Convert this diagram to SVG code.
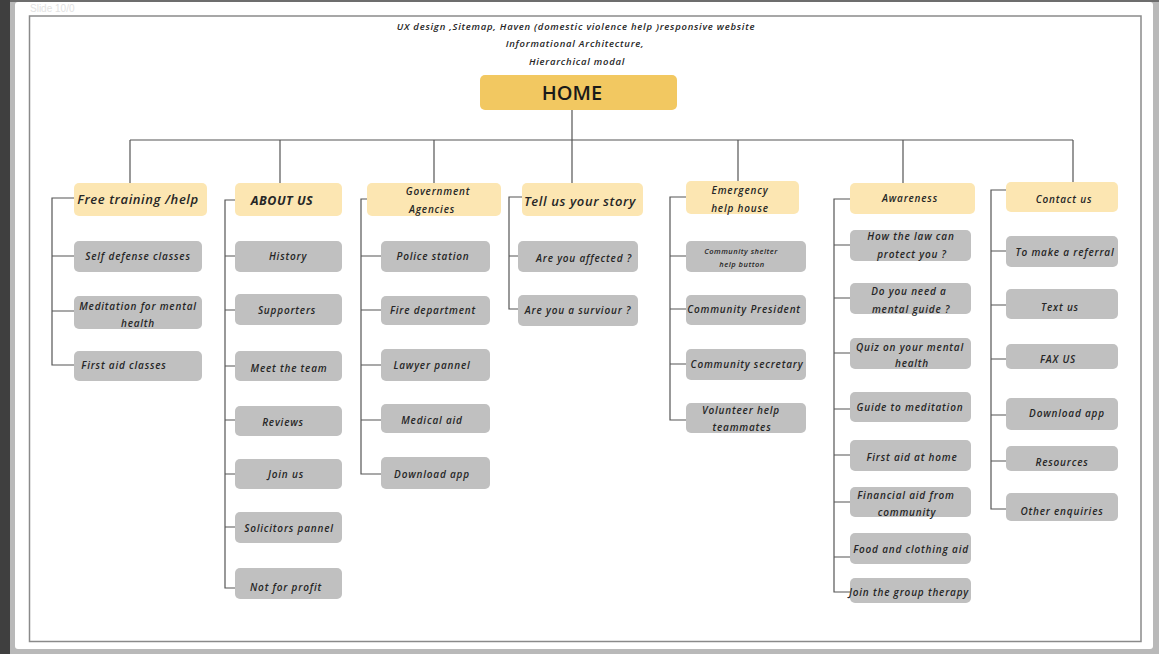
<svg xmlns="http://www.w3.org/2000/svg" width="1159" height="654" viewBox="0 0 1159 654">
<style>
.hdr{fill:#fce6b2;}
.leaf{fill:#c0c0c0;}
.t{font-family:"Open Sans","Liberation Sans",sans-serif;font-style:italic;font-weight:600;font-size:10px;fill:#262626;text-anchor:middle;letter-spacing:0.8px;}
.th{font-size:13px;letter-spacing:0.6px;}
.ts{font-size:7.5px;letter-spacing:0.5px;}
.tt{font-size:9.5px;letter-spacing:0.75px;}
.conn{fill:none;stroke:#555;stroke-width:1.2;}
</style>
<rect x="0" y="0" width="1159" height="654" fill="#b9b9b9"/>
<rect x="0" y="0" width="10" height="654" fill="#3f3f3f"/>
<rect x="10" y="0" width="1149" height="2" fill="#6d6d6d"/>
<rect x="15" y="2" width="1138" height="647" rx="3" fill="#ffffff"/>
<text x="30" y="12" font-family="Liberation Sans,sans-serif" font-size="10" fill="#e2e2e2">Slide 10/0</text>
<rect x="29.5" y="16" width="1111.5" height="625.5" fill="none" stroke="#8a8a8a" stroke-width="1.5"/>

<g id="title">
<text class="t tt" x="576" y="29.5">UX design ,Sitemap, Haven (domestic violence help )responsive website</text>
<text class="t tt" x="575" y="46.5">Informational Architecture,</text>
<text class="t tt" x="577" y="64.5">Hierarchical modal</text>
</g>

<g id="connectors">
<path class="conn" d="M572 110V140M130 140H1073M130 140V183M280 140V183M434 140V183M572 140V183M738 140V181M903 140V183M1073 140V182"/>
<path class="conn" d="M74 198H52V365H74M52 256H74M52 311H74"/>
<path class="conn" d="M235 200H225V588H235M225 256H235M225 310H235M225 366H235M225 420H235M225 474H235M225 527H235"/>
<path class="conn" d="M367 199H361V474H381M361 256H381M361 310H381M361 365H381M361 420H381"/>
<path class="conn" d="M522 197H509V309H518M509 256H518"/>
<path class="conn" d="M686 197H670V420H686M670 256H686M670 309H686M670 364H686"/>
<path class="conn" d="M850 199H834V592H850M834 245H850M834 298H850M834 353H850M834 409H850M834 455H850M834 502H850M834 557H850"/>
<path class="conn" d="M1006 190H991V509H1006M991 251H1006M991 305H1006M991 359H1006M991 415H1006M991 461H1006"/>
</g>

<g id="home">
<rect x="480" y="75" width="197" height="35" rx="5" fill="#f2c861"/>
<text x="572" y="100" text-anchor="middle" font-family="Open Sans,sans-serif" font-weight="600" font-size="20" fill="#1a1a1a">HOME</text>
</g>

<g id="col1">
<g id="free-training"><rect class="hdr" x="74" y="183" width="133" height="33" rx="5"/><text class="t th" x="138" y="204">Free training /help</text></g>
<g id="self-defense"><rect class="leaf" x="74" y="241" width="128" height="31" rx="5"/><text class="t" x="138" y="259.5">Self defense classes</text></g>
<g id="meditation"><rect class="leaf" x="74" y="296" width="128" height="33" rx="5"/><text class="t" x="138" y="309.5">Meditation for mental</text><text class="t" x="138" y="326.5">health</text></g>
<g id="first-aid-classes"><rect class="leaf" x="74" y="351" width="128" height="30" rx="5"/><text class="t" x="124" y="368.5">First aid classes</text></g>
</g>

<g id="col2">
<g id="about-us"><rect class="hdr" x="235" y="183" width="107" height="33" rx="5"/><text class="t" x="282" y="204.5" style="font-size:12.5px;font-weight:700;letter-spacing:0.5px">ABOUT US</text></g>
<g id="history"><rect class="leaf" x="235" y="241" width="107" height="31" rx="5"/><text class="t" x="288" y="259.5">History</text></g>
<g id="supporters"><rect class="leaf" x="235" y="294" width="107" height="31" rx="5"/><text class="t" x="287" y="313.5">Supporters</text></g>
<g id="meet-team"><rect class="leaf" x="235" y="351" width="107" height="30" rx="5"/><text class="t" x="289" y="371.5">Meet the team</text></g>
<g id="reviews"><rect class="leaf" x="235" y="406" width="107" height="30" rx="5"/><text class="t" x="283" y="425.5">Reviews</text></g>
<g id="join-us"><rect class="leaf" x="235" y="459" width="107" height="30" rx="5"/><text class="t" x="286" y="477.5">Join us</text></g>
<g id="solicitors"><rect class="leaf" x="235" y="512" width="107" height="31" rx="5"/><text class="t" x="289" y="531.5">Solicitors pannel</text></g>
<g id="not-for-profit"><rect class="leaf" x="235" y="568" width="107" height="31" rx="5"/><text class="t" x="286" y="590.5">Not for profit</text></g>
</g>

<g id="col3">
<g id="government"><rect class="hdr" x="367" y="183" width="134" height="33" rx="5"/><text class="t" x="438" y="194.5">Government</text><text class="t" x="432" y="212.5">Agencies</text></g>
<g id="police"><rect class="leaf" x="381" y="241" width="109" height="31" rx="5"/><text class="t" x="433" y="259.5">Police station</text></g>
<g id="fire"><rect class="leaf" x="381" y="296" width="109" height="29" rx="5"/><text class="t" x="433" y="313.5">Fire department</text></g>
<g id="lawyer"><rect class="leaf" x="381" y="349" width="109" height="32" rx="5"/><text class="t" x="432" y="368.5">Lawyer pannel</text></g>
<g id="medical"><rect class="leaf" x="381" y="404" width="109" height="29" rx="5"/><text class="t" x="432" y="423.5">Medical aid</text></g>
<g id="download-gov"><rect class="leaf" x="381" y="457" width="109" height="32" rx="5"/><text class="t" x="432" y="477.5">Download app</text></g>
</g>

<g id="col4">
<g id="tell-story"><rect class="hdr" x="522" y="183" width="121" height="33" rx="5"/><text class="t th" x="580" y="205.5">Tell us your story</text></g>
<g id="affected"><rect class="leaf" x="518" y="241" width="120" height="31" rx="5"/><text class="t" x="584" y="261.5">Are you affected ?</text></g>
<g id="survivor"><rect class="leaf" x="518" y="295" width="120" height="31" rx="5"/><text class="t" x="578" y="313.5">Are you a surviour ?</text></g>
</g>

<g id="col5">
<g id="emergency"><rect class="hdr" x="686" y="181" width="113" height="33" rx="5"/><text class="t" x="740" y="193.5">Emergency</text><text class="t" x="740" y="211.5">help house</text></g>
<g id="shelter"><rect class="leaf" x="686" y="241" width="120" height="31" rx="5"/><text class="t ts" x="741" y="253.5">Community shelter</text><text class="t ts" x="742" y="266.5">help button</text></g>
<g id="president"><rect class="leaf" x="686" y="295" width="120" height="30" rx="5"/><text class="t" x="744" y="312.5">Community President</text></g>
<g id="secretary"><rect class="leaf" x="686" y="349" width="120" height="31" rx="5"/><text class="t" x="747" y="367.5">Community secretary</text></g>
<g id="volunteer"><rect class="leaf" x="686" y="403" width="120" height="30" rx="5"/><text class="t" x="741" y="413.5">Volunteer help</text><text class="t" x="742" y="430.5">teammates</text></g>
</g>

<g id="col6">
<g id="awareness"><rect class="hdr" x="850" y="183" width="125" height="31" rx="5"/><text class="t" x="910" y="201.5">Awareness</text></g>
<g id="law"><rect class="leaf" x="850" y="230" width="121" height="31" rx="5"/><text class="t" x="911" y="239.5">How the law can</text><text class="t" x="912" y="257.5">protect you ?</text></g>
<g id="mental-guide"><rect class="leaf" x="850" y="283" width="121" height="31" rx="5"/><text class="t" x="909" y="294.5">Do you need a</text><text class="t" x="911" y="312.5">mental guide ?</text></g>
<g id="quiz"><rect class="leaf" x="850" y="338" width="121" height="31" rx="5"/><text class="t" x="910" y="350.5">Quiz on your mental</text><text class="t" x="912" y="366.5">health</text></g>
<g id="guide-meditation"><rect class="leaf" x="850" y="392" width="121" height="30" rx="5"/><text class="t" x="910" y="410.5">Guide to meditation</text></g>
<g id="first-aid-home"><rect class="leaf" x="850" y="440" width="121" height="31" rx="5"/><text class="t" x="912" y="460.5">First aid at home</text></g>
<g id="financial"><rect class="leaf" x="850" y="487" width="121" height="30" rx="5"/><text class="t" x="906" y="498.5">Financial aid from</text><text class="t" x="907" y="515.5">community</text></g>
<g id="food"><rect class="leaf" x="850" y="533" width="121" height="31" rx="5"/><text class="t" x="911" y="552.5">Food and clothing aid</text></g>
<g id="group-therapy"><rect class="leaf" x="850" y="578" width="121" height="25" rx="5"/><text class="t" x="909" y="595.5">Join the group therapy</text></g>
</g>

<g id="col7">
<g id="contact"><rect class="hdr" x="1006" y="182" width="112" height="30" rx="5"/><text class="t" x="1064" y="202.5">Contact us</text></g>
<g id="referral"><rect class="leaf" x="1006" y="236" width="112" height="31" rx="5"/><text class="t" x="1065" y="255.5">To make a referral</text></g>
<g id="text-us"><rect class="leaf" x="1006" y="289" width="112" height="30" rx="5"/><text class="t" x="1060" y="310.5">Text us</text></g>
<g id="fax"><rect class="leaf" x="1006" y="344" width="112" height="25" rx="5"/><text class="t" x="1058" y="362.5">FAX US</text></g>
<g id="download-contact"><rect class="leaf" x="1006" y="398" width="112" height="32" rx="5"/><text class="t" x="1067" y="416.5">Download app</text></g>
<g id="resources"><rect class="leaf" x="1006" y="446" width="112" height="25" rx="5"/><text class="t" x="1062" y="465.5">Resources</text></g>
<g id="other"><rect class="leaf" x="1006" y="493" width="112" height="28" rx="5"/><text class="t" x="1062" y="514.5">Other enquiries</text></g>
</g>
</svg>
